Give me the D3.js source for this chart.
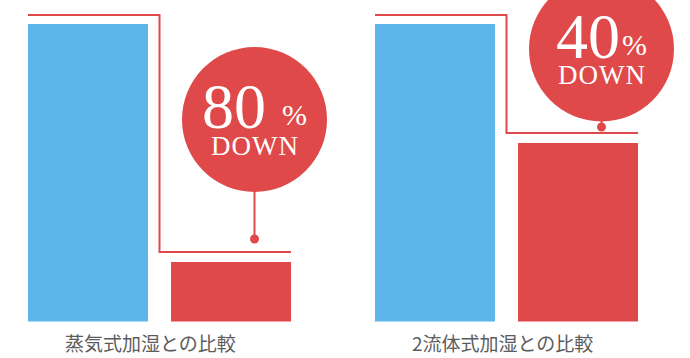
<!DOCTYPE html>
<html>
<head>
<meta charset="utf-8">
<script src="https://cdn.jsdelivr.net/npm/d3@7/dist/d3.min.js"></script>
<style>
  html, body { margin: 0; padding: 0; background: #fff; }
  svg { display: block; }
</style>
</head>
<body>
<svg id="chart" width="690" height="358"></svg>
<script>
// Comparison panels: conventional humidifier vs. ours
const panels = ["蒸気式加湿との比較", "2流体式加湿との比較"];
const seriesNames = ["従来方式", "本製品"];
const conventional = [100, 100];     // energy use of the compared method (index)
const reductionPct = [80, 40];       // stated saving, in percent
const ours = conventional.map((v, i) => v * (1 - reductionPct[i] / 100));
const badgeUnit = "%";
const badgeWord = "DOWN";

const BLUE = "#5eb5ea", RED = "#e0494a", LABEL = "#5c5c5c";

// per-panel badge placement
const badgeCy = [119.5, 49];
const dotGap = [13, 6];
const pctDx = [16, 2];

const svg = d3.select("#chart");

const xPanel = d3.scaleBand().domain(panels).range([28, 638]).paddingInner(84 / 347).paddingOuter(0);
const xInner = d3.scaleBand().domain(seriesNames).range([0, xPanel.bandwidth()]).paddingInner(23 / 143).paddingOuter(0);
const y = d3.scaleLinear().domain([0, 100]).range([321.5, 24]);

const rows = panels.map((p, i) => ({
  panel: p,
  values: [conventional[i], ours[i]],
  pct: reductionPct[i],
  i
}));

const g = svg.selectAll("g.panel").data(rows).join("g")
  .attr("class", "panel")
  .attr("transform", d => `translate(${xPanel(d.panel)},0)`);

// bars
g.selectAll("rect.bar").data(d => d.values.map((v, k) => ({ v, k }))).join("rect")
  .attr("class", "bar")
  .attr("x", d => xInner(seriesNames[d.k]))
  .attr("width", xInner.bandwidth())
  .attr("y", d => y(d.v))
  .attr("height", d => y(0) - y(d.v))
  .attr("fill", d => d.k === 0 ? BLUE : RED);

// bracket line from the taller bar down to the reduced one
const lowLineY = d => y(d.values[1]) - 10;
g.append("path")
  .attr("fill", "none")
  .attr("stroke", RED)
  .attr("stroke-width", 2)
  .attr("d", d => {
    const topY = y(d.values[0]) - 9;
    const midX = (xInner(seriesNames[0]) + xInner.bandwidth() + xInner(seriesNames[1])) / 2;
    const endX = xInner(seriesNames[1]) + xInner.bandwidth();
    return `M${xInner(seriesNames[0])},${topY}H${midX}V${lowLineY(d)}H${endX}`;
  });

// badge with stem and dot
const cxOf = () => xInner(seriesNames[1]) + 83.5;
const R = 72.5;
const dotY = d => lowLineY(d) - dotGap[d.i];

g.append("line")
  .attr("x1", cxOf).attr("x2", cxOf)
  .attr("y1", d => badgeCy[d.i] + R - 2)
  .attr("y2", dotY)
  .attr("stroke", RED).attr("stroke-width", 2);

g.append("circle")
  .attr("cx", cxOf)
  .attr("cy", dotY)
  .attr("r", 4.5)
  .attr("fill", RED);

g.append("circle")
  .attr("cx", cxOf)
  .attr("cy", d => badgeCy[d.i])
  .attr("r", R)
  .attr("fill", RED);

// badge text: value + unit on the first line, "DOWN" on the second
const badge = g.append("text")
  .attr("text-anchor", "middle")
  .attr("fill", "#fff")
  .style("font-family", "'Liberation Serif', 'Times New Roman', serif");

badge.append("tspan")
  .attr("x", cxOf)
  .attr("y", d => badgeCy[d.i] + 8.5)
  .style("font-size", "64px")
  .text(d => d.pct);

badge.append("tspan")
  .attr("dx", d => pctDx[d.i])
  .attr("dy", -3)
  .style("font-size", "30px")
  .text(badgeUnit);

badge.append("tspan")
  .attr("x", () => cxOf() + 0.5)
  .attr("y", d => badgeCy[d.i] + 35)
  .style("font-size", "27px")
  .style("letter-spacing", "1px")
  .text(badgeWord);

// panel captions
g.append("text")
  .attr("x", 37)
  .attr("y", 351)
  .attr("fill", LABEL)
  .style("font-family", "'Noto Sans CJK JP', sans-serif")
  .style("font-size", "19px")
  .text(d => d.panel);
</script>
</body>
</html>
